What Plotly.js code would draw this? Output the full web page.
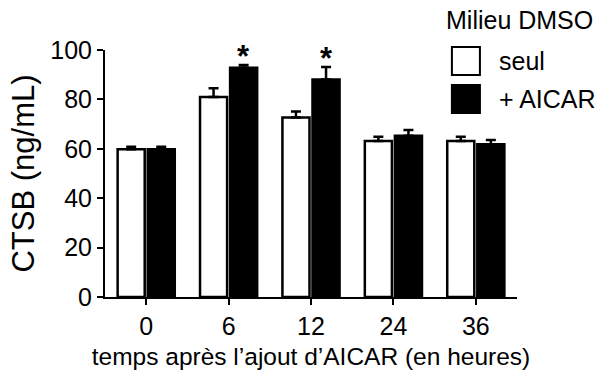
<!DOCTYPE html>
<html>
<head>
<meta charset="utf-8">
<script src="https://cdn.plot.ly/plotly-3.0.1.min.js"></script>
<style>html,body{margin:0;padding:0;background:#fff;}#chart{width:598px;height:370px;}</style>
</head>
<body>
<div id="chart"></div>
<script>
var categories = ['0', '6', '12', '24', '36'];
var seriesNames = ['seul', '+ AICAR'];
var seulValues = [59.8, 81, 72.7, 63.2, 63.2];
var seulErrors = [1.0, 3.5, 2.4, 1.7, 1.7];
var aicarValues = [59.8, 92.8, 88.1, 65.3, 61.8];
var aicarErrors = [1.0, 1.1, 5.0, 2.3, 1.8];
var significant = [false, true, true, false, false];
var legendTitle = 'Milieu DMSO';
var xTitle = 'temps après l’ajout d’AICAR (en heures)';
var yTitle = 'CTSB (ng/mL)';
var yTicks = [0, 20, 40, 60, 80, 100];

var FONT = '"Liberation Sans", Arial, sans-serif';

function errBar(arr) {
  return {type: 'data', array: arr, arrayminus: arr.map(function(){return 0;}), symmetric: false,
          color: '#000', thickness: 2.5, width: 5};
}

var traces = [
  {type: 'bar', name: seriesNames[0], x: categories, y: seulValues,
   marker: {color: '#fff', line: {color: '#000', width: 2.5}},
   error_y: errBar(seulErrors), showlegend: false},
  {type: 'bar', name: seriesNames[1], x: categories, y: aicarValues,
   marker: {color: '#000', line: {color: '#000', width: 2.5}},
   error_y: errBar(aicarErrors), showlegend: false}
];

var annotations = [];
significant.forEach(function(s, i) {
  if (s) {
    annotations.push({x: i + 0.183, y: aicarValues[i] + aicarErrors[i], xref: 'x', yref: 'y',
      text: '<b>*</b>', showarrow: false, yanchor: 'bottom', yshift: -11,
      font: {family: FONT, size: 31, color: '#000'}});
  }
});
// legend (drawn manually with large boxes)
annotations.push({x: 0.823, y: 1.121, xref: 'paper', yref: 'paper', xanchor: 'left', yanchor: 'middle',
  text: legendTitle, showarrow: false, font: {family: FONT, size: 25, color: '#000'}});
var boxColors = ['#fff', '#000'];
var boxTops = [1.012, 0.858];
var shapes = [];
seriesNames.forEach(function(n, k) {
  shapes.push({type: 'rect', xref: 'paper', yref: 'paper', x0: 0.842, x1: 0.910,
    y0: boxTops[k] - 0.113, y1: boxTops[k], fillcolor: boxColors[k], line: {color: '#000', width: 2}});
  annotations.push({x: 0.951, y: boxTops[k] - 0.0565, xref: 'paper', yref: 'paper', xanchor: 'left', yanchor: 'middle',
    text: n, showarrow: false, font: {family: FONT, size: 25, color: '#000'}});
});

var layout = {
  width: 598, height: 370,
  margin: {l: 105, r: 81, t: 50, b: 73},
  paper_bgcolor: '#fff', plot_bgcolor: '#fff',
  barmode: 'group', bargap: 0.27, bargroupgap: 0.1,
  font: {family: FONT, color: '#000'},
  xaxis: {type: 'category', range: [-0.5, 4.5], showgrid: false, zeroline: false,
    showline: true, linecolor: '#000', linewidth: 2,
    ticks: 'outside', ticklen: 6, tickwidth: 2, tickcolor: '#000',
    tickfont: {family: FONT, size: 25, color: '#000'},
    title: {text: xTitle, font: {family: FONT, size: 24.5, color: '#000'}, standoff: 10}},
  yaxis: {range: [0, 100], tickvals: yTicks, showgrid: false, zeroline: false,
    showline: true, linecolor: '#000', linewidth: 2,
    ticks: 'outside', ticklen: 6, tickwidth: 2, tickcolor: '#000',
    tickfont: {family: FONT, size: 25, color: '#000'},
    title: {text: yTitle, font: {family: FONT, size: 31, color: '#000'}, standoff: 6}},
  annotations: annotations,
  shapes: shapes,
  showlegend: false
};

Plotly.newPlot('chart', traces, layout, {displayModeBar: false, staticPlot: true});
</script>
</body>
</html>
